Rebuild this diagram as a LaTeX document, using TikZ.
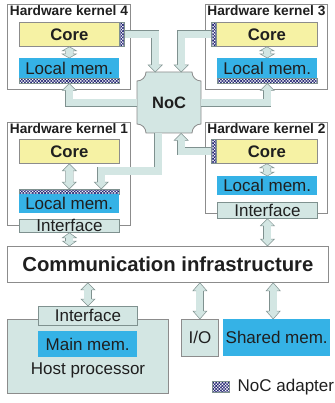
\documentclass[tikz,border=0pt]{standalone}
\usepackage{fontspec}
\setmainfont{Liberation Sans}
\usetikzlibrary{positioning, calc, patterns.meta}
\definecolor{mYellow}{HTML}{F6F2A4}
\definecolor{mBlue}{HTML}{35B2E6}
\definecolor{mMint}{HTML}{D3E6E3}
\definecolor{mEdge}{HTML}{7F918F}
\definecolor{mGray}{HTML}{8C8C8C}
\definecolor{mNavy}{HTML}{1E2070}
\definecolor{mText}{HTML}{1F1F1F}

\tikzset{
  box/.style={draw=mGray, line width=0.8pt, inner sep=0pt, anchor=north west, text=mText,
    font=\fontsize{17}{19}\selectfont},
  kernel/.style={box, fill=white},
  ktitle/.style={inner sep=0pt, text=mText, font=\fontsize{13.7}{15}\selectfont\bfseries},
  core/.style={box, fill=mYellow, font=\fontsize{16.7}{18}\selectfont\bfseries},
  mem/.style={inner sep=0pt, anchor=north west, fill=mBlue, text=mText, font=\fontsize{17}{19}\selectfont},
  iface/.style={box, fill=mMint, draw=mEdge},
  adapter/.style={draw=mEdge, line width=0.5pt, inner sep=0pt, anchor=north west,
    pattern={Hatch[angle=45, distance=2.2pt, line width=0.6pt]}, pattern color=mNavy},
  lbl/.style={inner sep=0pt, text=mText, font=\fontsize{17}{19}\selectfont},
  fatline/.style={draw=mEdge, line width=0.5pt, double=mMint, double distance=7pt}
}

% fat arrow head: [length]{tip}{direction}
\newcommand\fathead[3][7]{%
  \begin{scope}[shift={#2}, x=1pt, y=1pt, rotate=#3]
    \fill[mMint] (0,0) -- (-#1,7) -- (-#1,-7) -- cycle;
    \draw[mEdge, line width=0.5pt] (-#1,3.75) -- (-#1,7) -- (0,0) -- (-#1,-7) -- (-#1,-3.75);
  \end{scope}}
% vertical double arrow: [head length]{upper tip}{lower tip}
\newcommand\vfat[3][7]{%
  \draw[fatline] ($#2+(0,#1-1)$) -- ($#3+(0,1-#1)$);
  \fathead[#1]{#2}{90}\fathead[#1]{#3}{-90}}

\begin{document}
\begin{tikzpicture}[x=1pt, y=-1pt]
  \useasboundingbox (0,0) rectangle (334,403);

  % kernel 4
  \node[kernel, minimum width=123, minimum height=85] (k4) at (7,4) {};
  \node[ktitle, below=1.5pt of k4.north] (t4) {Hardware kernel 4};
  \node[core, minimum width=100, minimum height=24] (core4) at (19,22) {Core};
  \node[adapter, minimum width=5, minimum height=24] (a4) at (119,22) {};
  \node[mem, minimum width=100, minimum height=20] (mem4) at (19,58) {Local mem.};
  \node[adapter, minimum width=100, minimum height=5] (h4) at (19,78) {};

  % kernel 3
  \node[kernel, minimum width=122, minimum height=85] (k3) at (205,4) {};
  \node[ktitle, below=1.5pt of k3.north] (t3) {Hardware kernel 3};
  \node[core, minimum width=101, minimum height=24] (core3) at (216,22) {Core};
  \node[adapter, minimum width=5, minimum height=24] (a3) at (211,22) {};
  \node[mem, minimum width=100, minimum height=20] (mem3) at (217,58) {Local mem.};
  \node[adapter, minimum width=100, minimum height=5] (h3) at (217,78) {};

  % kernel 1
  \node[kernel, minimum width=123, minimum height=103] (k1) at (7,122) {};
  \node[ktitle, below=1.5pt of k1.north] (t1) {Hardware kernel 1};
  \node[core, minimum width=100, minimum height=24] (core1) at (19,139) {Core};
  \node[adapter, minimum width=100, minimum height=5] (h1) at (19,189) {};
  \node[mem, minimum width=100, minimum height=19] (mem1) at (19,194) {Local mem.};
  \node[iface, minimum width=100, minimum height=13] (if1) at (19,219) {Interface};

  % kernel 2
  \node[kernel, minimum width=122, minimum height=91] (k2) at (205,122) {};
  \node[ktitle, below=1.5pt of k2.north] (t2) {Hardware kernel 2};
  \node[core, minimum width=101, minimum height=24] (core2) at (216,139) {Core};
  \node[adapter, minimum width=5, minimum height=24] (a2) at (211,139) {};
  \node[mem, minimum width=100, minimum height=19] (mem2) at (217,176) {Local mem.};
  \node[iface, minimum width=100, minimum height=16] (if2) at (217,202) {Interface};

  % network on chip
  \filldraw[fill=mMint, draw=mGray, line width=0.8pt] (146,72) -- (192,72)
    arc[start angle=180, end angle=90, radius=9] -- (201,124)
    arc[start angle=270, end angle=180, radius=9] -- (146,133)
    arc[start angle=0, end angle=-90, radius=9] -- (137,81)
    arc[start angle=90, end angle=0, radius=9] -- cycle;
  \node[inner sep=0pt, anchor=north west, minimum width=64, minimum height=61, text=mText,
    font=\fontsize{16.5}{18}\selectfont\bfseries] (noc) at (137,72) {NoC};

  % shared part
  \node[box, fill=white, minimum width=321, minimum height=36,
    font=\fontsize{20.3}{22}\selectfont\bfseries] (comm) at (7,246) {Communication infrastructure};
  \node[box, fill=mMint, minimum width=161, minimum height=74] (host) at (7,319) {};
  \node[iface, minimum width=99, minimum height=19] (ifh) at (38,306) {Interface};
  \node[mem, minimum width=99, minimum height=26] (mainmem) at (38,331) {Main mem.};
  \node[lbl] (hostlbl) at (88,370) {Host processor};
  \node[box, fill=mMint, minimum width=37, minimum height=37] (io) at (181,319) {I/O};
  \node[mem, minimum width=107, minimum height=37] (shared) at (223,319) {Shared mem.};
  \coordinate (sh) at ([xshift=-3.5pt]shared.north);
  \node[adapter, minimum width=17, minimum height=11] (legend) at (212,381) {};
  \node[lbl, right=8pt of legend] (legendlbl) {NoC adapter};

  % links to the NoC
  \draw[fatline] (a4.east) -| ($(noc.north)+(-14,-6)$);
  \fathead{($(noc.north)+(-14,0)$)}{-90}
  \draw[fatline] (a3.west) -| ($(noc.north)+(12,-6)$);
  \fathead{($(noc.north)+(12,0)$)}{-90}
  \draw[fatline] (noc.west) -| ($(h4.south)+(0,6)$);
  \fathead{(h4.south)}{90}
  \draw[fatline] (noc.east) -| ($(h3.south)+(0,6)$);
  \fathead{(h3.south)}{90}
  \draw[fatline] ($(noc.south)+(-11,0)$) |- ($(h1.north)+(32,-18)$) -- ($(h1.north)+(32,-6)$);
  \fathead{($(h1.north)+(32,0)$)}{-90}
  \draw[fatline] (a2.west) -| ($(noc.south)+(12,6)$);
  \fathead{($(noc.south)+(12,0)$)}{90}

  % core <-> memory
  \vfat[4]{(core4.south)}{(mem4.north)}
  \vfat[4]{(core3.south)}{(mem3.north)}
  \vfat{(core1.south)}{(h1.north)}
  \vfat[4]{(core2.south)}{(mem2.north)}

  % interfaces <-> communication infrastructure
  \vfat[5]{(if1.south)}{(if1.south |- comm.north)}
  \vfat{(if2.south)}{(if2.south |- comm.north)}
  \vfat{(ifh.north |- comm.south)}{(ifh.north)}
  \vfat[8]{(io.north |- comm.south)}{(io.north)}
  \vfat[8]{(sh |- comm.south)}{(sh)}
\end{tikzpicture}
\end{document}
